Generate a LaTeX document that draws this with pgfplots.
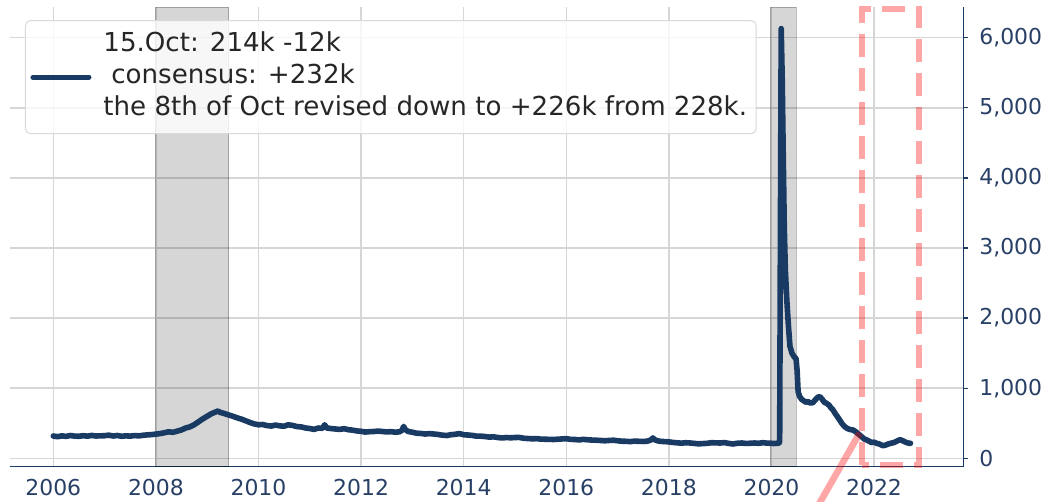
\documentclass[border=0pt]{standalone}
\usepackage{pgfplots}
\pgfplotsset{compat=1.18}
\usepackage{pgfplotstable}
\usepackage{fontspec}
\setmainfont{DejaVu Sans}
\definecolor{navy}{RGB}{24,58,99}
\definecolor{ticknavy}{RGB}{40,64,102}
\definecolor{gridc}{RGB}{214,214,214}
\pgfplotstableread{
x y
2006.00 318
2006.08 308
2006.17 320
2006.25 312
2006.33 325
2006.42 316
2006.50 314
2006.58 322
2006.67 316
2006.75 326
2006.83 318
2006.92 320
2007.00 322
2007.08 330
2007.17 318
2007.25 325
2007.33 314
2007.42 320
2007.50 316
2007.58 324
2007.67 320
2007.75 328
2007.83 334
2007.92 338
2008.00 345
2008.08 352
2008.17 365
2008.25 378
2008.33 370
2008.42 388
2008.50 405
2008.58 432
2008.67 450
2008.75 480
2008.83 520
2008.92 565
2009.00 600
2009.08 635
2009.17 662
2009.21 675
2009.25 655
2009.33 640
2009.42 618
2009.50 600
2009.58 578
2009.67 558
2009.75 535
2009.83 512
2009.92 490
2010.00 478
2010.08 482
2010.17 466
2010.25 460
2010.33 474
2010.42 462
2010.50 458
2010.58 478
2010.67 468
2010.75 452
2010.83 448
2010.92 432
2011.00 425
2011.08 412
2011.17 432
2011.25 428
2011.29 478
2011.33 432
2011.42 424
2011.50 418
2011.58 412
2011.67 422
2011.75 408
2011.83 402
2011.92 390
2012.00 385
2012.08 374
2012.17 380
2012.25 382
2012.33 388
2012.42 382
2012.50 376
2012.58 380
2012.67 372
2012.75 378
2012.80 400
2012.83 455
2012.86 412
2012.92 382
2013.00 372
2013.08 358
2013.17 354
2013.25 346
2013.33 352
2013.42 346
2013.50 340
2013.58 330
2013.67 325
2013.75 336
2013.83 342
2013.92 352
2014.00 336
2014.08 332
2014.17 326
2014.25 316
2014.33 316
2014.42 310
2014.50 302
2014.58 306
2014.67 296
2014.75 290
2014.83 296
2014.92 292
2015.00 296
2015.08 298
2015.17 286
2015.25 282
2015.33 278
2015.42 280
2015.50 274
2015.58 272
2015.67 270
2015.75 268
2015.83 272
2015.92 276
2016.00 280
2016.08 270
2016.17 268
2016.25 262
2016.33 270
2016.42 264
2016.50 260
2016.58 258
2016.67 254
2016.75 250
2016.83 254
2016.92 258
2017.00 250
2017.08 244
2017.17 242
2017.25 238
2017.33 245
2017.42 242
2017.50 240
2017.58 244
2017.65 262
2017.69 290
2017.73 262
2017.78 250
2017.83 242
2017.92 238
2018.00 234
2018.08 226
2018.17 220
2018.25 216
2018.33 222
2018.42 218
2018.50 212
2018.58 206
2018.67 210
2018.75 214
2018.83 222
2018.92 220
2019.00 218
2019.08 224
2019.17 212
2019.25 204
2019.33 214
2019.42 218
2019.50 212
2019.58 214
2019.67 218
2019.75 214
2019.83 222
2019.92 216
2020.00 214
2020.05 210
2020.10 214
2020.14 216
2020.16 230
2020.175 3300
2020.19 6130
2020.21 5400
2020.23 4300
2020.25 3300
2020.27 2700
2020.30 2250
2020.33 1900
2020.36 1600
2020.40 1500
2020.44 1450
2020.48 1420
2020.50 1250
2020.52 950
2020.55 880
2020.59 840
2020.63 820
2020.67 800
2020.71 810
2020.75 790
2020.80 790
2020.85 830
2020.90 870
2020.94 880
2020.98 850
2021.03 800
2021.07 785
2021.12 760
2021.16 720
2021.20 690
2021.25 630
2021.29 590
2021.33 546
2021.38 490
2021.43 450
2021.48 425
2021.53 410
2021.59 404
2021.64 380
2021.68 355
2021.72 332
2021.77 300
2021.81 275
2021.86 261
2021.90 245
2021.95 225
2022.00 230
2022.05 214
2022.10 205
2022.14 190
2022.18 180
2022.23 190
2022.28 205
2022.33 215
2022.38 223
2022.42 235
2022.47 255
2022.51 265
2022.56 250
2022.60 235
2022.64 223
2022.68 215
2022.71 214
}\claims
\begin{document}
\begin{tikzpicture}
\begin{axis}[
  scale only axis, width=476.65bp, height=229.7bp,
  xmin=2005.156, xmax=2023.74, ymin=-120, ymax=6434,
  axis x line*=bottom, axis y line*=right,
  axis line style={draw=navy, line width=0.6bp},
  xtick={2006,2008,...,2022}, ytick={0,1000,...,6000},
  grid=major, grid style={draw=gridc, line width=0.7bp},
  tick align=outside, major tick length=2.5bp,
  x tick style={draw=none}, y tick style={draw=navy, line width=0.6bp},
  xticklabel style={/pgf/number format/1000 sep={}, /pgf/number format/assume math mode=true, font=\fontsize{11}{13}\selectfont, text=ticknavy, yshift=-0.3bp},
  yticklabel style={/pgf/number format/1000 sep={,}, /pgf/number format/assume math mode=true, font=\fontsize{11}{13}\selectfont, text=ticknavy, xshift=2bp},
  clip=false,
  legend cell align=left,
  legend style={at={(0.0157,0.972)}, anchor=north west, draw=gray!30, line width=0.5bp,
    rounded corners=2.5bp, fill=white, fill opacity=0.8, text opacity=1,
    font=\fontsize{13.1}{15.9}\selectfont, text=black!85, inner xsep=2.5bp, inner ysep=2.5bp,
    nodes={text depth=, text height=},
    /tikz/every odd column/.append style={column sep=4bp}},
  legend image code/.code={\draw[#1, line width=2.5bp, line cap=round] (0bp,0bp) -- (28bp,0bp);},
]
\filldraw[fill=black, fill opacity=0.16, draw=black, draw opacity=0.25, line width=0.5bp]
  (axis cs:2008.0,-120) rectangle (axis cs:2009.42,6434);
\filldraw[fill=black, fill opacity=0.16, draw=black, draw opacity=0.25, line width=0.5bp]
  (axis cs:2019.98,-120) rectangle (axis cs:2020.48,6434);
\addplot[navy, line width=2.8bp, line join=round, line cap=round] table[x=x,y=y] {\claims};
\addlegendentry{\begin{tabular}{@{}l@{}}15.Oct: 214k -12k\\\hspace{0.3em}consensus: +232k\\the 8th of Oct revised down to +226k from 228k.\end{tabular}}
\draw[red, opacity=0.35, line width=3bp, dash pattern=on 11.5bp off 5.5bp]
  (axis cs:2021.77,-100) rectangle (axis cs:2022.88,6414);
\addplot[red, opacity=0.35, line width=3.3bp, overlay, forget plot] coordinates {(2021.72,361) (2020.75,-880)};
\end{axis}
\pgfresetboundingbox
\path (current axis.south west) ++(-5bp,-17.65bp) rectangle ++(524bp,251bp);
\end{tikzpicture}
\end{document}
